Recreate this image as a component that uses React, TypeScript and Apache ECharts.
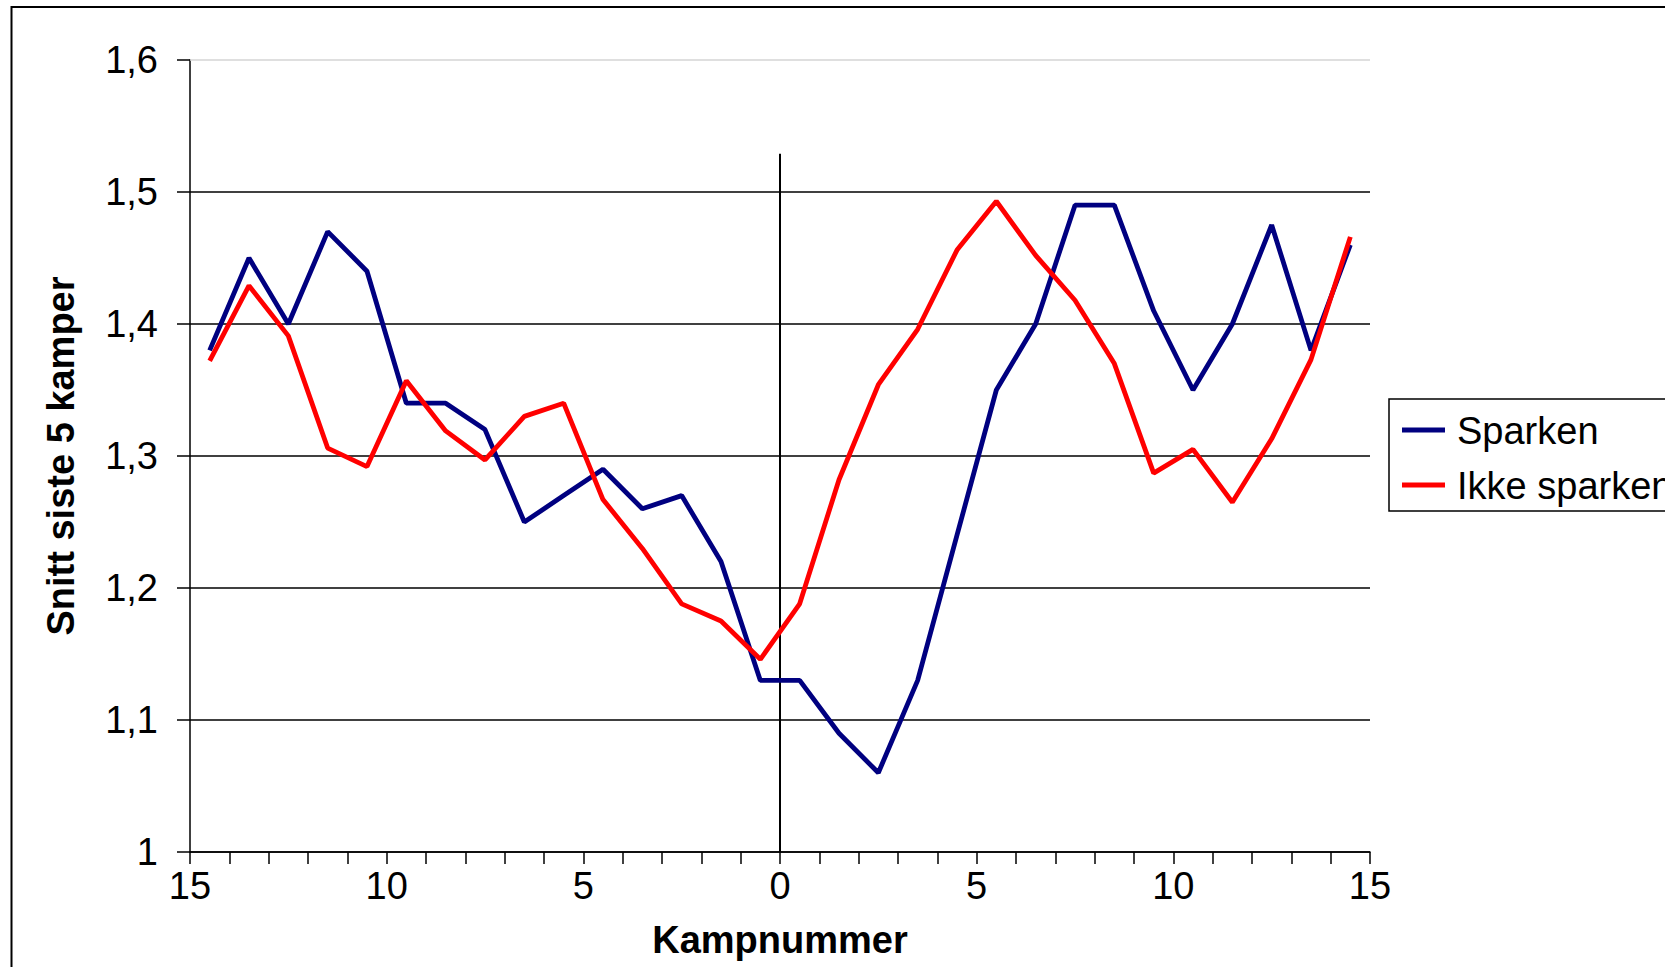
import React, { useEffect, useRef } from "react";
import * as echarts from "echarts";

// Match number relative to the sacking (negative = before, positive = after)
const matchPositions = [
  -14.5, -13.5, -12.5, -11.5, -10.5, -9.5, -8.5, -7.5, -6.5, -5.5, -4.5, -3.5, -2.5, -1.5, -0.5,
  0.5, 1.5, 2.5, 3.5, 4.5, 5.5, 6.5, 7.5, 8.5, 9.5, 10.5, 11.5, 12.5, 13.5, 14.5,
];

const seriesNames = ["Sparken", "Ikke sparken"];

const sparken = [
  1.38, 1.45, 1.4, 1.47, 1.44, 1.34, 1.34, 1.32, 1.25, 1.27, 1.29, 1.26, 1.27, 1.22, 1.13,
  1.13, 1.09, 1.06, 1.13, 1.24, 1.35, 1.4, 1.49, 1.49, 1.41, 1.35, 1.4, 1.475, 1.38, 1.46,
];

const ikkeSparken = [
  1.372, 1.429, 1.391, 1.306, 1.292, 1.357, 1.319, 1.297, 1.33, 1.34, 1.267, 1.23, 1.188, 1.175, 1.146,
  1.188, 1.282, 1.354, 1.396, 1.456, 1.493, 1.452, 1.418, 1.37, 1.287, 1.305, 1.265, 1.313, 1.373, 1.466,
];

const yTicks = { min: 1, max: 1.6, interval: 0.1 };
const xTicks = { min: -15, max: 15, interval: 1, labelEvery: 5 };

const FONT = '"Liberation Sans", Arial, Helvetica, sans-serif';
const COLORS = ["#000080", "#FF0000"];

export default function App() {
  const ref = useRef<HTMLDivElement>(null);

  useEffect(() => {
    if (!ref.current) return;
    const chart = echarts.init(ref.current, null, { renderer: "svg" });

    const legendItems = seriesNames.map((name, i) => {
      const cy = 430 + i * 55;
      return [
        {
          type: "line",
          shape: { x1: 1402, y1: cy, x2: 1445, y2: cy },
          style: { stroke: COLORS[i], lineWidth: 5 },
          z: 10,
        },
        {
          type: "text",
          x: 1457,
          y: cy + 1,
          style: {
            text: name,
            font: `38px ${FONT}`,
            fill: "#000",
            verticalAlign: "middle",
            align: "left",
          },
          z: 10,
        },
      ];
    }).flat();

    const option: any = {
      animation: false,
      backgroundColor: "#fff",
      textStyle: { fontFamily: FONT },
      grid: {
        left: 190,
        top: 60,
        width: 1180,
        height: 792,
        containLabel: false,
        outerBoundsMode: "none",
      },
      xAxis: {
        type: "value",
        min: xTicks.min,
        max: xTicks.max,
        interval: xTicks.interval,
        name: "Kampnummer",
        nameLocation: "middle",
        nameGap: 69,
        nameTextStyle: { fontSize: 38, fontWeight: "bold", color: "#000", fontFamily: FONT },
        axisLine: { show: true, onZero: false, lineStyle: { color: "#000", width: 1.5 } },
        axisTick: { show: true, inside: false, length: 12, lineStyle: { color: "#000", width: 1.5 } },
        axisLabel: {
          margin: 15,
          fontSize: 38,
          color: "#000",
          fontFamily: FONT,
          formatter: (v: number) =>
            Math.round(v) % xTicks.labelEvery === 0 ? String(Math.abs(Math.round(v))) : "",
        },
        splitLine: { show: false },
      },
      yAxis: {
        type: "value",
        min: yTicks.min,
        max: yTicks.max,
        interval: yTicks.interval,
        name: "Snitt siste 5 kamper",
        nameLocation: "middle",
        nameRotate: 90,
        nameGap: 110,
        nameTextStyle: { fontSize: 38, fontWeight: "bold", color: "#000", fontFamily: FONT },
        axisLine: { show: true, onZero: false, lineStyle: { color: "#000", width: 1.5 } },
        axisTick: { show: true, inside: false, length: 13, lineStyle: { color: "#000", width: 1.5 } },
        axisLabel: {
          margin: 32,
          fontSize: 38,
          color: "#000",
          fontFamily: FONT,
          formatter: (v: number) => String(Math.round(v * 10) / 10).replace(".", ","),
        },
        splitLine: {
          show: true,
          showMaxLine: false,
          lineStyle: { color: "#000", width: 1.6 },
        },
      },
      series: [
        {
          name: seriesNames[0],
          type: "line",
          data: matchPositions.map((x, i) => [x, sparken[i]]),
          showSymbol: false,
          symbol: "none",
          lineStyle: { color: COLORS[0], width: 4.8 },
          itemStyle: { color: COLORS[0] },
          z: 3,
          markLine: {
            silent: true,
            symbol: ["none", "none"],
            z: 1,
            label: { show: false },
            lineStyle: { color: "#000", width: 2, type: "solid" },
            data: [[{ coord: [0, 1] }, { coord: [0, 1.529] }]],
          },
        },
        {
          name: seriesNames[1],
          type: "line",
          data: matchPositions.map((x, i) => [x, ikkeSparken[i]]),
          showSymbol: false,
          symbol: "none",
          lineStyle: { color: COLORS[1], width: 4.8 },
          itemStyle: { color: COLORS[1] },
          z: 4,
          markLine: {
            silent: true,
            symbol: ["none", "none"],
            z: 1,
            label: { show: false },
            lineStyle: { color: "#d4d4d4", width: 1.5, type: "solid" },
            data: [[{ coord: [xTicks.min, yTicks.max] }, { coord: [xTicks.max, yTicks.max] }]],
          },
        },
      ],
      graphic: [
        {
          type: "rect",
          shape: { x: 11.5, y: 7, width: 2000, height: 2000 },
          style: { fill: "none", stroke: "#000", lineWidth: 2 },
          silent: true,
          z: 0,
        },
        {
          type: "rect",
          shape: { x: 1389, y: 399, width: 400, height: 112 },
          style: { fill: "#fff", stroke: "#000", lineWidth: 1.5 },
          silent: true,
          z: 9,
        },
        ...legendItems,
      ],
    };

    chart.setOption(option);
    return () => chart.dispose();
  }, []);

  return (
    <div
      ref={ref}
      style={{ position: "fixed", left: 0, top: 0, width: 1665, height: 967, background: "#fff" }}
    />
  );
}
